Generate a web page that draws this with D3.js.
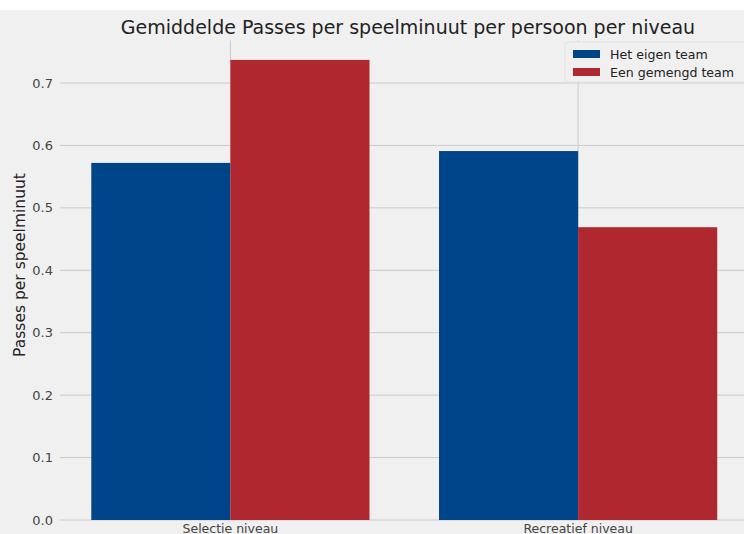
<!DOCTYPE html>
<html><head><meta charset="utf-8">
<script src="https://cdn.jsdelivr.net/npm/d3@7"></script>
<style>body{margin:0;background:#fff;}svg{display:block;font-family:"DejaVu Sans",sans-serif;}</style>
</head><body>
<svg id="c" width="744" height="534"></svg>
<script>
const categories = ["Selectie niveau", "Recreatief niveau"];
const seriesNames = ["Het eigen team", "Een gemengd team"];
const eigenTeam = [0.572, 0.591];
const gemengdTeam = [0.737, 0.469];
const yTicks = [0.0, 0.1, 0.2, 0.3, 0.4, 0.5, 0.6, 0.7];
const colors = ["#00448a", "#b0282f"];

const svg = d3.select("#c");
svg.append("rect").attr("x",0).attr("y",10).attr("width",744).attr("height",524).attr("fill","#f0f0f0");

const x = d3.scaleLinear().domain([-0.49, 1.5]).range([60, 752]);
const y = d3.scaleLinear().domain([0, 0.7]).range([520, 83]);
const plotTop = y(0.768);

const g = svg.append("g");
g.selectAll("line.h").data(yTicks).enter().append("line")
  .attr("x1", 60).attr("x2", 744).attr("y1", d=>y(d)).attr("y2", d=>y(d))
  .attr("stroke","#cbcbcb").attr("stroke-width",1);
g.selectAll("line.v").data(categories).enter().append("line")
  .attr("x1",(d,i)=>x(i)).attr("x2",(d,i)=>x(i)).attr("y1",plotTop).attr("y2",520)
  .attr("stroke","#cbcbcb").attr("stroke-width",1);

const bw = 0.4;
const series = [eigenTeam, gemengdTeam];
series.forEach((vals, s) => {
  g.selectAll("rect.s"+s).data(vals).enter().append("rect")
    .attr("x",(d,i)=>x(i + (s===0 ? -bw : 0)))
    .attr("width", x(bw)-x(0))
    .attr("y", d=>y(d))
    .attr("height", d=>y(0)-y(d))
    .attr("fill", colors[s]);
});

g.selectAll("text.yt").data(yTicks).enter().append("text")
  .attr("x", 53).attr("y", d=>y(d)+4.5).attr("text-anchor","end")
  .attr("font-size",13).attr("fill","#444").text(d=>d.toFixed(1));
g.selectAll("text.xt").data(categories).enter().append("text")
  .attr("x",(d,i)=>x(i)).attr("y",532.5).attr("text-anchor","middle")
  .attr("font-size",12.5).attr("fill","#444").text(d=>d);

svg.append("text").attr("transform","translate(25,265) rotate(-90)")
  .attr("text-anchor","middle").attr("font-size",15.5).attr("fill","#222").text("Passes per speelminuut");
svg.append("text").attr("x",408).attr("y",34).attr("text-anchor","middle")
  .attr("font-size",19).attr("fill","#222").text("Gemiddelde Passes per speelminuut per persoon per niveau");

const lg = svg.append("g");
lg.append("rect").attr("x",565).attr("y",42).attr("width",185).attr("height",40).attr("rx",3)
  .attr("fill","#f0f0f0").attr("stroke","#e2e2e2");
seriesNames.forEach((n,i)=>{
  lg.append("rect").attr("x",573).attr("y",50+i*18).attr("width",27).attr("height",8).attr("fill",colors[i]);
  lg.append("text").attr("x",610).attr("y",58.5+i*18).attr("font-size",12.6).attr("fill","#222").text(n);
});
</script>
</body></html>
